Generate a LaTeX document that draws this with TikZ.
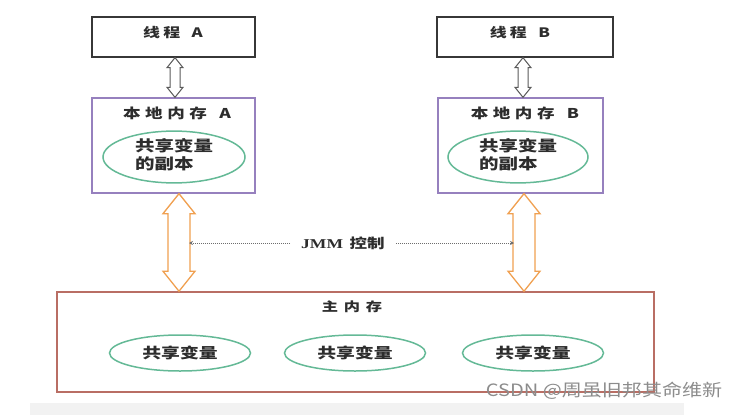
\documentclass[tikz,border=0pt]{standalone}
\usepackage{fontspec}
\usepackage{graphicx}
\usetikzlibrary{calc,arrows.meta,shapes.geometric}
\newfontfamily\cjk{Noto Sans CJK SC}
\newfontfamily\serf{Liberation Serif}
\definecolor{threadc}{RGB}{55,55,55}
\definecolor{localc}{RGB}{150,128,190}
\definecolor{varc}{RGB}{100,185,150}
\definecolor{mainc}{RGB}{185,110,100}
\definecolor{orangec}{RGB}{240,160,80}
\definecolor{thinc}{RGB}{90,90,90}
\definecolor{dotc}{RGB}{110,110,110}
\definecolor{txt}{RGB}{45,45,45}
\definecolor{bandc}{RGB}{242,242,242}
\definecolor{wmc}{RGB}{140,140,140}
\newcommand\hstretch[1]{\scalebox{1.3}[1]{#1}}
\newcommand\gp[1]{\hspace{#1pt}}
% vertical hollow double arrow: top, bottom, shaft half width, head half width, head length, style
\newcommand\vdarrow[6]{%
  \draw[#6] let \p1=(#1), \p2=(#2) in
    (\x1,\y1) -- (\x1+#4,\y1-#5) -- (\x1+#3,\y1-#5) -- (\x1+#3,\y2+#5)
    -- (\x1+#4,\y2+#5) -- (\x1,\y2) -- (\x1-#4,\y2+#5) -- (\x1-#3,\y2+#5)
    -- (\x1-#3,\y1-#5) -- (\x1-#4,\y1-#5) -- cycle;}
\tikzset{
  threadbox/.style={draw=threadc, line width=1.3pt, minimum height=40pt, inner sep=0},
  localbox/.style={draw=localc, line width=1.3pt, minimum height=95pt, inner sep=0},
  mainbox/.style={draw=mainc, line width=1.5pt, minimum width=597pt, minimum height=100pt, inner sep=0},
  var/.style={ellipse, draw=varc, line width=1.5pt, inner sep=0, text=txt},
  lbl/.style={inner sep=0, text=txt},
  thinarrow/.style={draw=thinc, fill=white, line width=1pt, line join=miter},
  bigarrow/.style={draw=orangec, fill=white, line width=1.3pt, line join=miter},
  jmmline/.style={draw=dotc, line width=0.9pt, dash pattern=on 1pt off 1pt, -{Stealth[length=4pt,width=4pt]}},
}
\begin{document}
\begin{tikzpicture}[x=1pt,y=-1pt]
\useasboundingbox (0,0) rectangle (736,415);
\fill[bandc] (30,403) rectangle (684,415);
% boxes
\node[threadbox, minimum width=163pt] (tA) at (173.5,37) {};
\node[threadbox, minimum width=176pt] (tB) at (525,37) {};
\node[localbox, minimum width=163pt] (lA) at (173.5,145.5) {};
\node[localbox, minimum width=165pt] (lB) at (520.5,145.5) {};
\node[mainbox] (main) at (355.5,342) {};
% labels
\node[lbl, font=\cjk\bfseries\fontsize{13}{15}\selectfont] (ltA) at (173,33) {\hstretch{线\gp{2.4}程\gp{8.8}A}};
\node[lbl, font=\cjk\bfseries\fontsize{13}{15}\selectfont] (ltB) at (520,33) {\hstretch{线\gp{2.4}程\gp{8.8}B}};
\node[lbl, font=\cjk\bfseries\fontsize{13.5}{15}\selectfont] (llA) at (177,113) {\hstretch{本\gp{3.5}地\gp{3.5}内\gp{3.5}存\gp{9.5}A}};
\node[lbl, font=\cjk\bfseries\fontsize{13.5}{15}\selectfont] (llB) at (525,113) {\hstretch{本\gp{3.5}地\gp{3.5}内\gp{3.5}存\gp{9.5}B}};
\node[lbl, font=\cjk\bfseries\fontsize{12.5}{15}\selectfont] (lmain) at (352,307) {\hstretch{主\gp{4.5}内\gp{4.5}存}};
% copies in local memory
\node[var, minimum width=142pt, minimum height=51pt, font=\cjk\bfseries\fontsize{15}{18}\selectfont] (eA) at (174,157)
  {\hstretch{\begin{tabular}{@{}l@{}}共享变量\\的副本\end{tabular}}};
\node[var, minimum width=140pt, minimum height=47pt, font=\cjk\bfseries\fontsize{15}{18}\selectfont] (eB) at (518,157)
  {\hstretch{\begin{tabular}{@{}l@{}}共享变量\\的副本\end{tabular}}};
% shared variables in main memory
\node[var, minimum width=141pt, minimum height=36pt, font=\cjk\bfseries\fontsize{14.5}{16}\selectfont] (v1) at (180,353) {\hstretch{共享变量}};
\node[var, minimum width=141pt, minimum height=36pt, font=\cjk\bfseries\fontsize{14.5}{16}\selectfont] (v2) at (355,353) {\hstretch{共享变量}};
\node[var, minimum width=141pt, minimum height=36pt, font=\cjk\bfseries\fontsize{14.5}{16}\selectfont] (v3) at (533,353) {\hstretch{共享变量}};
% thin arrows thread <-> local memory
\coordinate (tAs) at ($(tA.south)+(1.5,0)$);
\coordinate (lAn) at (tAs |- lA.north);
\coordinate (tBs) at ($(tB.south)+(-2,0)$);
\coordinate (lBn) at (tBs |- lB.north);
\vdarrow{tAs}{lAn}{5pt}{8pt}{10pt}{thinarrow}
\vdarrow{tBs}{lBn}{5pt}{8pt}{10pt}{thinarrow}
% orange arrows local memory <-> main memory
\coordinate (oAt) at ($(lA.south)+(5.5,0)$);
\coordinate (oAb) at (oAt |- main.north);
\coordinate (oBt) at ($(lB.south)+(3.5,0)$);
\coordinate (oBb) at (oBt |- main.north);
\vdarrow{oAt}{oAb}{11pt}{16pt}{20pt}{bigarrow}
\vdarrow{oBt}{oBb}{11pt}{16pt}{20pt}{bigarrow}
% JMM control
\node[lbl, inner xsep=11pt, font=\bfseries\fontsize{13.5}{15}\selectfont] (jmm) at (343,243) {\hstretch{{\serf JMM} {\cjk 控制}}};
\coordinate (jL) at (189,243);
\coordinate (jR) at (514,243);
\draw[jmmline] (jmm.west) -- (jL);
\draw[jmmline] (jmm.east) -- (jR);
% watermark
\node[inner sep=0, text=wmc, font=\cjk\fontsize{17}{20}\selectfont] (wm) at (604,391) {\scalebox{1.18}[1]{CSDN @周虽旧邦其命维新}};
\end{tikzpicture}
\end{document}
